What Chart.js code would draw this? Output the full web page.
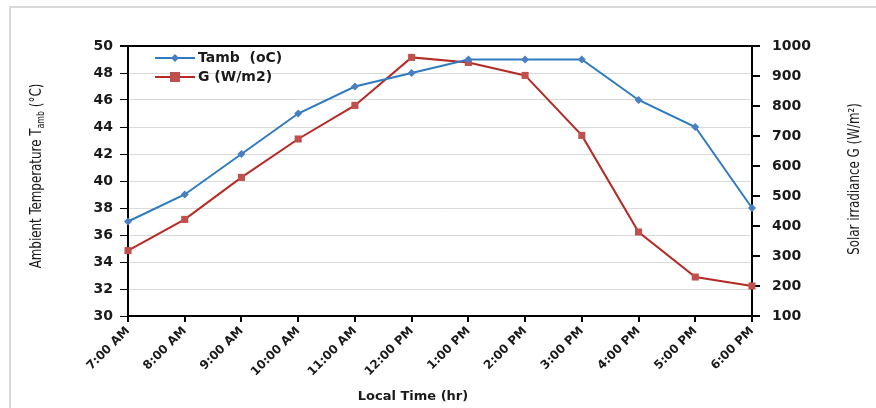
<!DOCTYPE html>
<html>
<head>
    <meta charset="UTF-8">
    <title>Ambient Temperature and Solar Irradiance</title>
    <script src="https://cdn.jsdelivr.net/npm/chart.js@4.4.1/dist/chart.umd.min.js"></script>
    <style>
        body { margin: 0; background: #fff; }
        #wrap { position: relative; width: 876px; height: 408px; }
    </style>
</head>
<body>
<div id="wrap">
    <canvas id="solarChart" width="876" height="408"></canvas>
</div>

<script>
    // Data
    var hours = ['7:00 AM', '8:00 AM', '9:00 AM', '10:00 AM', '11:00 AM', '12:00 PM',
                 '1:00 PM', '2:00 PM', '3:00 PM', '4:00 PM', '5:00 PM', '6:00 PM'];
    var tamb = [37, 39, 42, 45, 47, 48, 49, 49, 49, 46, 44, 38];
    var irradiance = [318, 422, 562, 690, 802, 962, 945, 902, 702, 380, 230, 200];

    var tickFont = { family: "'DejaVu Sans', sans-serif", size: 14, weight: 'bold' };
    var titleFamily = "'Liberation Sans Narrow', 'DejaVu Sans Condensed', 'Liberation Sans', sans-serif";

    // Axis titles, legend and outer frame drawn by hand
    var decorations = {
        id: 'decorations',
        afterDraw: function(chart) {
            var ctx = chart.ctx;
            ctx.save();

            // outer frame
            ctx.strokeStyle = '#d9d9d9';
            ctx.lineWidth = 2;
            ctx.strokeRect(10, 7, 900, 450);

            ctx.fillStyle = '#1a1a1a';
            ctx.textBaseline = 'middle';

            // left title with subscript (squeezed a little, the original font is narrow)
            ctx.save();
            ctx.translate(37, 176);
            ctx.rotate(-Math.PI / 2);
            ctx.scale(0.88, 1);
            var big = '15px ' + titleFamily, small = '10px ' + titleFamily;
            var p1 = 'Ambient Temperature T', p2 = 'amb', p3 = ' (\u00B0C)';
            ctx.font = big; var w1 = ctx.measureText(p1).width, w3 = ctx.measureText(p3).width;
            ctx.font = small; var w2 = ctx.measureText(p2).width;
            var x0 = -(w1 + w2 + w3) / 2;
            ctx.textAlign = 'left';
            ctx.font = big; ctx.fillText(p1, x0, 0);
            ctx.font = small; ctx.fillText(p2, x0 + w1, 4);
            ctx.font = big; ctx.fillText(p3, x0 + w1 + w2, 0);
            ctx.restore();

            // right title
            ctx.save();
            ctx.translate(855, 179);
            ctx.rotate(-Math.PI / 2);
            ctx.scale(0.88, 1);
            ctx.textAlign = 'center';
            ctx.font = '15px ' + titleFamily;
            ctx.fillText('Solar irradiance G (W/m\u00B2)', 0, 0);
            ctx.restore();

            // x title
            ctx.textAlign = 'center';
            ctx.font = "bold 13px 'DejaVu Sans', sans-serif";
            ctx.fillText('Local Time (hr)', 413, 397);

            // legend
            chart.data.datasets.forEach(function(ds, i) {
                var y = 58 + i * 19;
                ctx.strokeStyle = ds.borderColor;
                ctx.lineWidth = 2;
                ctx.beginPath();
                ctx.moveTo(155, y);
                ctx.lineTo(195, y);
                ctx.stroke();
                ctx.fillStyle = ds.pointBackgroundColor;
                var r = ds.pointRadius;
                ctx.beginPath();
                if (ds.pointStyle === 'rectRot') {
                    ctx.moveTo(175, y - r); ctx.lineTo(175 + r, y);
                    ctx.lineTo(175, y + r); ctx.lineTo(175 - r, y);
                } else {
                    ctx.rect(175 - r, y - r, 2 * r, 2 * r);
                }
                ctx.closePath();
                ctx.fill();
                ctx.fillStyle = '#1a1a1a';
                ctx.textAlign = 'left';
                ctx.font = "bold 14px 'DejaVu Sans', sans-serif";
                ctx.fillText(ds.label, 198, y);
            });
            ctx.restore();
        }
    };

    var chartCtx = document.getElementById('solarChart').getContext('2d');
    var solarChart = new Chart(chartCtx, {
        type: 'line',
        data: {
            labels: hours,
            datasets: [{
                label: 'Tamb  (oC)',
                data: tamb,
                yAxisID: 'y',
                borderColor: '#2e7bbf',
                borderWidth: 2,
                pointStyle: 'rectRot',
                pointRadius: 4,
                pointBackgroundColor: '#4a7ec2',
                pointBorderWidth: 0,
                tension: 0,
                fill: false
            }, {
                label: 'G (W/m2)',
                data: irradiance,
                yAxisID: 'y1',
                borderColor: '#b52a24',
                borderWidth: 2,
                pointStyle: 'rect',
                pointRadius: 5,
                pointBackgroundColor: '#c0504d',
                pointBorderWidth: 0,
                tension: 0,
                fill: false
            }]
        },
        options: {
            responsive: false,
            animation: false,
            layout: { padding: { top: 46, left: 0, right: 0, bottom: 0 } },
            plugins: {
                legend: { display: false },
                tooltip: { enabled: false }
            },
            scales: {
                x: {
                    afterFit: function(s) { s.height = 92; },
                    grid: { drawOnChartArea: false, tickLength: 6, tickColor: '#000', lineWidth: 2 },
                    border: { color: '#000', width: 2 },
                    ticks: {
                        font: { family: "'DejaVu Sans', sans-serif", size: 12, weight: 'bold' },
                        color: '#1a1a1a',
                        minRotation: 45,
                        maxRotation: 45,
                        padding: 2
                    }
                },
                y: {
                    position: 'left',
                    min: 30,
                    max: 50,
                    afterFit: function(s) { s.width = 128; },
                    grid: {
                        color: function(c) { return c.tick && c.tick.value === 50 ? '#000' : '#d9d9d9'; },
                        lineWidth: function(c) { return c.tick && c.tick.value === 50 ? 2 : 1; },
                        tickColor: '#000',
                        tickLength: 8
                    },
                    border: { color: '#000', width: 2 },
                    ticks: { stepSize: 2, font: tickFont, color: '#1a1a1a', padding: 7 }
                },
                y1: {
                    position: 'right',
                    min: 100,
                    max: 1000,
                    afterFit: function(s) { s.width = 124; },
                    grid: { drawOnChartArea: false, tickColor: '#000', tickLength: 8, lineWidth: 2 },
                    border: { color: '#000', width: 2 },
                    ticks: {
                        stepSize: 100, font: tickFont, color: '#1a1a1a', padding: 12,
                        callback: function(v) { return String(v); }
                    }
                }
            }
        },
        plugins: [decorations]
    });
</script>
</body>
</html>
